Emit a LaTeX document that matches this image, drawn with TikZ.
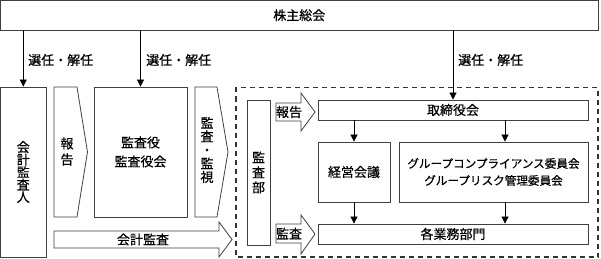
\documentclass[tikz,border=0pt]{standalone}
\usepackage{fontspec}
\setmainfont{Noto Sans CJK JP}[FakeBold=0.6]
\usetikzlibrary{arrows.meta}
\begin{document}
\begin{tikzpicture}[x=1pt,y=-1pt,
  font=\fontsize{13}{15}\selectfont,
  box/.style={draw=black!75, line width=0.8pt, inner sep=0pt, align=center},
  fat/.style={draw=black!75, line width=0.8pt, fill=white},
  arr/.style={draw=black, line width=0.7pt, -{Triangle[width=7pt,length=7pt]}},
  lbl/.style={inner sep=0pt, anchor=west},
  vtext/.style={inner sep=0pt, align=center}]
\useasboundingbox (0,0) rectangle (601,259);

% boxes
\node[box, minimum width=597.5pt, minimum height=29.5pt] (top) at (299.25,15.25) {株主総会};
\node[box, minimum width=45.5pt, minimum height=170pt, font=\fontsize{13}{12.5}\selectfont] (kaikei) at (23.25,172) {会\\計\\監\\査\\人};
\node[box, minimum width=93pt, minimum height=130pt, font=\fontsize{13}{19}\selectfont] (kansayaku) at (140.5,152) {監査役\\監査役会};

% dashed frame
\draw[black!80, line width=1.1pt, dash pattern=on 5pt off 4pt] (236,87.5) rectangle (598,257);

\node[box, minimum width=23pt, minimum height=145pt, font=\fontsize{13}{15}\selectfont] (kansabu) at (258.5,172.5) {監\\査\\部};
\node[box, minimum width=270pt, minimum height=20pt] (tori) at (453,110) {取締役会};
\node[box, minimum width=72pt, minimum height=60pt] (keiei) at (354,172) {経営会議};
\node[box, minimum width=189pt, minimum height=60pt, font=\fontsize{11.6}{17}\selectfont] (group) at (493.5,172) {グループコンプライアンス委員会\\グループリスク管理委員会};
\node[box, minimum width=270pt, minimum height=20pt] (gyomu) at (453,234) {各業務部門};

% fat arrows
\draw[fat] (54,87) -- (77,87) -- (87.5,152) -- (77,217) -- (54,217) -- cycle;
\node[vtext, font=\fontsize{13}{16}\selectfont] (hokoku1) at (67,151.5) {報\\告};
\draw[fat] (195,87) -- (217,87) -- (228,152) -- (217,217) -- (195,217) -- cycle;
\node[vtext, font=\fontsize{13}{13.5}\selectfont] (kansashi) at (207,150) {監\\査\\・\\監\\視};
\draw[fat] (54,231) -- (219,231) -- (219,222) -- (232,239.5) -- (219,257) -- (219,248) -- (54,248) -- cycle;
\node[vtext] (kaikeikansa) at (143,239.5) {会計監査};
\draw[fat] (276,103) -- (301,103) -- (301,93) -- (315,112) -- (301,131) -- (301,121) -- (276,121) -- cycle;
\node[vtext] (hokoku2) at (289,112) {報告};
\draw[fat] (276,224) -- (301,224) -- (301,215) -- (315,234) -- (301,254) -- (301,243) -- (276,243) -- cycle;
\node[vtext] (kansa2) at (289,233.5) {監査};

% connectors
\draw[arr] (top.south -| kaikei.north) -- (kaikei.north);
\draw[arr] (top.south -| kansayaku.north) -- (kansayaku.north);
\draw[arr] (top.south -| tori.north) -- (tori.north);
\coordinate (ga) at ([xshift=11.5pt]group.north);
\coordinate (gb) at ([xshift=11.5pt]group.south);
\draw[arr] (tori.south -| keiei.north) -- (keiei.north);
\draw[arr] (tori.south -| ga) -- (ga);
\draw[arr] (keiei.south) -- (gyomu.north -| keiei.south);
\draw[arr] (gb) -- (gyomu.north -| gb);

% labels
\node[lbl] (s1) at (28,60) {選任・解任};
\node[lbl] (s2) at (146,60) {選任・解任};
\node[lbl] (s3) at (458,60) {選任・解任};
\end{tikzpicture}
\end{document}
